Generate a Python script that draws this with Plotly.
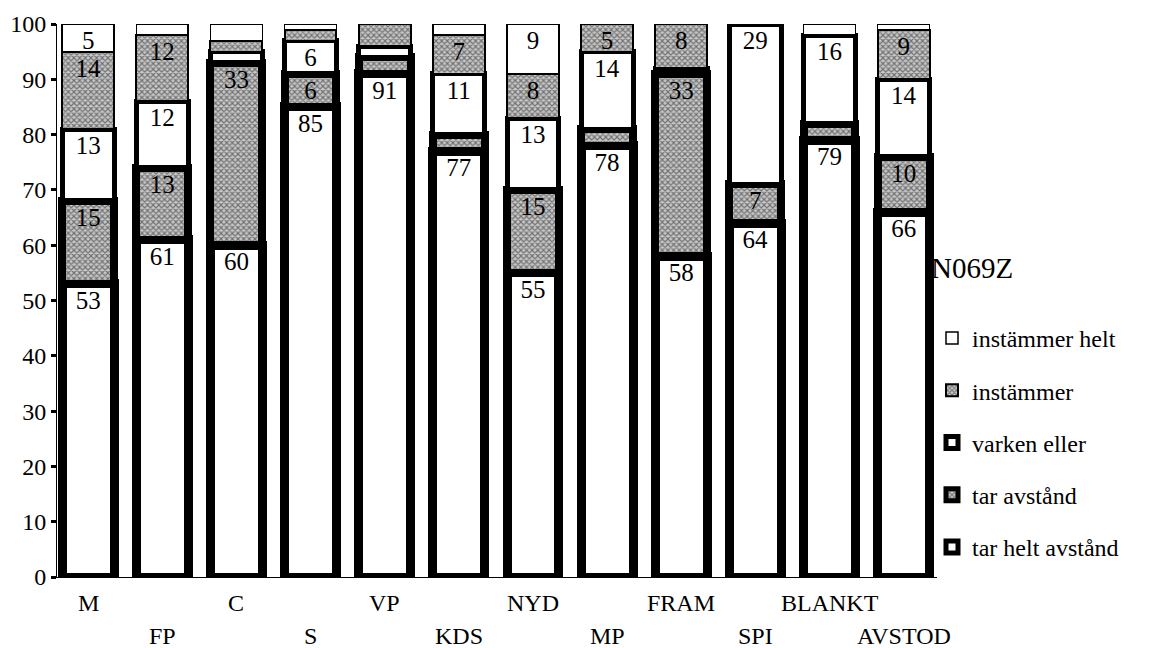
import plotly.graph_objects as go

categories = ["M", "FP", "C", "S", "VP", "KDS", "NYD", "MP", "FRAM", "SPI", "BLANKT", "AVSTOD"]
tar_helt_avstand = [53, 61, 60, 85, 91, 77, 55, 78, 58, 64, 79, 66]
tar_avstand = [15, 13, 33, 6, 3, 3, 15, 3, 33, 7, 3, 10]
varken_eller = [13, 12, 2, 6, 2, 11, 13, 14, 1, 29, 16, 14]
instammer = [14, 12, 2, 2, 4, 7, 8, 5, 8, 0, 0, 9]
instammer_helt = [5, 2, 3, 1, 0, 2, 9, 0, 0, 0, 2, 1]
y_ticks = [0, 10, 20, 30, 40, 50, 60, 70, 80, 90, 100]
legend_title = "N069Z"

FONT = "Liberation Serif, Times New Roman, serif"

# page body has an 8px margin; figure is sized to fit inside the window
W, H = 1145, 640
OFF = 8
plot_left, plot_right, plot_top, plot_bottom = 57 - OFF, 937 - OFF, 24 - OFF, 577 - OFF
plot_h = plot_bottom - plot_top

series = [
    ("tar helt avstånd", tar_helt_avstand, False, 9),
    ("tar avstånd", tar_avstand, True, 8),
    ("varken eller", varken_eller, False, 5),
    ("instämmer", instammer, True, 2),
    ("instämmer helt", instammer_helt, False, 1.5),
]

fig = go.Figure()
n = len(series)
for i, (name, vals, stipple, lw) in enumerate(series):
    yv = [v if v else None for v in vals]
    txt = [str(v) if v >= 5 else "" for v in vals]
    marker = dict(color="white", line=dict(color="black", width=lw))
    if stipple:
        marker["color"] = "#c0c0c0"
        marker["pattern"] = dict(shape="x", size=4, solidity=0.5,
                                 fgcolor="#1a1a1a", bgcolor="#c8c8c8")
    fig.add_trace(go.Bar(
        x=categories, y=yv, name=name, marker=marker,
        text=txt, textposition="inside", insidetextanchor="end",
        textfont=dict(family=FONT, size=25, color="black"),
        textangle=0, width=0.7, legendgroup=name, legendrank=n - i,
        hoverinfo="skip",
    ))

# staggered category labels
for i, c in enumerate(categories):
    row_y = 603 if i % 2 == 0 else 636
    fig.add_annotation(
        x=c, xref="x", y=-(row_y - 577) / plot_h, yref="paper",
        text=c, showarrow=False, yanchor="middle",
        font=dict(family=FONT, size=24, color="black"),
    )

fig.add_annotation(
    xref="paper", x=1.0, xanchor="left", y=(577 - 268) / plot_h, yref="paper",
    yanchor="middle", text=legend_title, showarrow=False, xshift=-8,
    font=dict(family=FONT, size=29, color="black"),
)

fig.update_layout(
    width=W, height=H,
    barmode="stack",
    plot_bgcolor="white", paper_bgcolor="white",
    margin=dict(l=plot_left, r=W - plot_right, t=plot_top, b=H - plot_bottom,
                autoexpand=False),
    font=dict(family=FONT, color="black"),
    uniformtext=dict(minsize=25, mode="show"),
    showlegend=True,
    legend=dict(
        traceorder="grouped", tracegroupgap=18,
        xref="container", yref="container",
        x=(932 - OFF) / W, xanchor="left", y=1 - (316 - OFF) / H, yanchor="top",
        font=dict(family=FONT, size=24, color="black"),
        bgcolor="rgba(0,0,0,0)", itemwidth=30,
    ),
    xaxis=dict(
        range=[-0.42, 11.45], showticklabels=False, ticks="",
        showline=True, linecolor="black", linewidth=1, showgrid=False,
        zeroline=False, automargin=False,
    ),
    yaxis=dict(
        range=[0, 100], tickvals=y_ticks, ticks="outside", ticklen=5,
        tickwidth=3, tickcolor="black", showline=True, linecolor="black",
        linewidth=1, showgrid=False, zeroline=False, automargin=False,
        tickfont=dict(family=FONT, size=24, color="black"),
    ),
)

fig.write_html("out.html")
